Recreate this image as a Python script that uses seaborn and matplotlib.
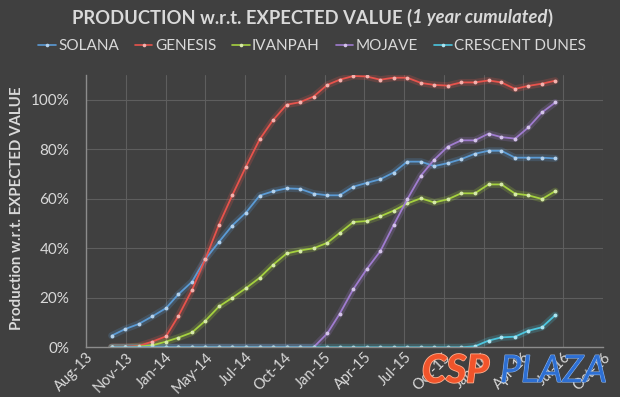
import numpy as np
import pandas as pd
import matplotlib
matplotlib.use("Agg")
import matplotlib.pyplot as plt
import matplotlib.patheffects as pe
from matplotlib.lines import Line2D
import seaborn as sns

# ---------------- data (% of expected value) ----------------
MONTHS = pd.date_range("2013-10-01", "2016-07-01", freq="MS")  # 34 monthly points

SOLANA = [4.7, 7.4, 9.4, 12.5, 15.8, 21.4, 26.5, 35.6, 42.6, 49.2, 54.4, 61.3,
          63.0, 64.2, 64.0, 62.1, 61.4, 61.4, 64.9, 66.4, 67.9, 70.6, 75.0, 75.0,
          73.2, 74.4, 76.0, 78.2, 79.4, 79.4, 76.6, 76.6, 76.6, 76.3]
GENESIS = [0.2, 0.2, 0.5, 2.3, 4.4, 12.6, 23.2, 35.6, 49.6, 61.4, 73.0, 84.0,
           91.7, 98.0, 99.0, 101.3, 106.0, 108.1, 109.6, 109.4, 108.1, 108.9, 108.9, 106.8,
           106.0, 105.7, 107.0, 107.0, 107.8, 107.0, 104.4, 105.6, 106.5, 107.7]
IVANPAH = [0.0, 0.0, 0.3, 0.8, 2.3, 3.9, 6.0, 10.7, 16.5, 20.0, 23.9, 28.1,
           33.3, 37.9, 39.1, 40.0, 42.2, 46.2, 50.6, 51.0, 52.9, 55.2, 58.1, 60.2,
           58.5, 59.8, 62.2, 62.2, 65.8, 65.8, 62.1, 61.4, 59.9, 63.1]
MOJAVE = [0.0, 0.0, 0.0, 0.0, 0.0, 0.0, 0.0, 0.0, 0.0, 0.0, 0.0, 0.0,
          0.0, 0.0, 0.0, 0.0, 5.6, 13.5, 23.5, 31.5, 38.8, 49.3, 59.8, 69.4,
          75.8, 81.1, 83.6, 83.6, 86.3, 84.9, 84.3, 88.8, 94.9, 98.9]
CRESCENT_DUNES = [0.0] * 27 + [0.4, 2.7, 4.0, 4.3, 6.7, 8.1, 13.0]

SERIES_NAMES = ["SOLANA", "GENESIS", "IVANPAH", "MOJAVE", "CRESCENT DUNES"]
SERIES_COLORS = ["#5B9BD5", "#E8534C", "#A5D13F", "#A07CD0", "#4CC6DF"]

TICK_LABELS = ["Aug-13", "Nov-13", "Jan-14", "May-14", "Jul-14", "Oct-14", "Jan-15",
               "Apr-15", "Jul-15", "Oct-15", "Jan-16", "Apr-16", "Jul-16", "Oct-16"]
Y_TICKS = [0, 20, 40, 60, 80, 100]
Y_TICK_LABELS = ["0%", "20%", "40%", "60%", "80%", "100%"]

TITLE_PARTS = [("PRODUCTION w.r.t. EXPECTED VALUE (", "normal"),
               ("1 year cumulated", "italic"),
               (")", "normal")]
Y_LABEL = "Production w.r.t. EXPECTED VALUE"

# ---------------- style ----------------
BG = "#404040"
TXT = "#D9D9D9"
sns.set_theme(style="dark")
plt.rcParams["font.family"] = ["Lato", "DejaVu Sans"]

df = pd.DataFrame({"date": MONTHS, "SOLANA": SOLANA, "GENESIS": GENESIS,
                   "IVANPAH": IVANPAH, "MOJAVE": MOJAVE,
                   "CRESCENT DUNES": CRESCENT_DUNES})
long = df.melt(id_vars="date", var_name="plant", value_name="pct")
palette = dict(zip(SERIES_NAMES, SERIES_COLORS))

W, H = 620, 397
fig = plt.figure(figsize=(W / 100, H / 100), dpi=100, facecolor=BG)
ax = fig.add_axes([86 / W, 1 - 347.3 / H, (603 - 86) / W, (347.3 - 75) / H])
ax.set_facecolor(BG)

# glow
sns.lineplot(data=long, x="date", y="pct", hue="plant", hue_order=SERIES_NAMES,
             palette=palette, linewidth=5, alpha=0.22, legend=False, ax=ax)
n_glow = len(ax.lines)
sns.lineplot(data=long, x="date", y="pct", hue="plant", hue_order=SERIES_NAMES,
             palette=palette, linewidth=1.3, marker="o", markersize=2.8,
             markeredgewidth=0, legend=False, ax=ax)


def lighten(c, f=0.55):
    rgb = np.array(matplotlib.colors.to_rgb(c))
    return tuple(rgb + (1 - rgb) * f)


for ln in ax.lines[n_glow:]:
    ln.set_markerfacecolor(lighten(ln.get_color()))
    ln.set_solid_capstyle("round")

x0 = pd.Timestamp("2013-08-04")
tick_dates = [x0 + pd.Timedelta(days=90 * k) for k in range(len(TICK_LABELS))]
ax.set_xlim(x0, x0 + pd.Timedelta(days=1170))
ax.set_xticks(tick_dates)
ax.set_xticklabels(TICK_LABELS, rotation=45, ha="right", rotation_mode="anchor")
ax.set_ylim(0, 110)
ax.set_yticks(Y_TICKS)
ax.set_yticklabels(Y_TICK_LABELS)
ax.set_xlabel("")
ax.set_ylabel("")

ax.grid(True, color="#5E5E5E", linewidth=0.8)
ax.tick_params(axis="y", length=0, colors=TXT, labelsize=11, pad=12)
ax.tick_params(axis="x", length=0, colors=TXT, labelsize=10.5, pad=2)
for s in ["top", "right"]:
    ax.spines[s].set_visible(False)
for s in ["left", "bottom"]:
    ax.spines[s].set_visible(True)
    ax.spines[s].set_color("#8C8C8C")
    ax.spines[s].set_linewidth(1.0)

# y label
fig.text(17 / W, 1 - 208 / H, Y_LABEL, rotation=90, ha="center", va="center",
         color=TXT, fontsize=10.8, fontweight="bold")

# legend
handles = [Line2D([], [], color=c, lw=1.2, marker="o", ms=2.6, mew=0,
                  mfc=lighten(c)) for c in SERIES_COLORS]
fig.legend(handles, SERIES_NAMES, loc="center", bbox_to_anchor=(312 / W, 1 - 46 / H),
           ncol=5, frameon=False, fontsize=11, handlelength=1.15,
           handletextpad=0.15, columnspacing=1.05, labelcolor=TXT)

# title built from pieces (bold + bold italic)
fig.canvas.draw()
renderer = fig.canvas.get_renderer()
pieces = []
for txt, style in TITLE_PARTS:
    t = fig.text(0, 1 - 18 / H, txt, ha="left", va="center", color=TXT,
                 fontsize=13.2, fontweight="bold", style=style)
    pieces.append(t)
widths = [p.get_window_extent(renderer).width for p in pieces]
total = sum(widths)
x = 312 - total / 2
for p, w in zip(pieces, widths):
    p.set_x(x / W)
    x += w

# watermark logo
fig.text(422 / W, 1 - 371 / H, "CSP", ha="left", va="center", fontsize=28,
         fontweight="black", style="italic", color="#F1542B", zorder=10,
         path_effects=[pe.withStroke(linewidth=1.2, foreground="#FFB090")])
fig.text(500 / W, 1 - 371 / H, "PLAZA", ha="left", va="center", fontsize=27,
         fontweight="normal", style="italic", color="#2D6FD3", zorder=10,
         path_effects=[pe.withStroke(linewidth=0.8, foreground="#8FB6EC")])

fig.savefig("out.png", dpi=100, facecolor=BG)
